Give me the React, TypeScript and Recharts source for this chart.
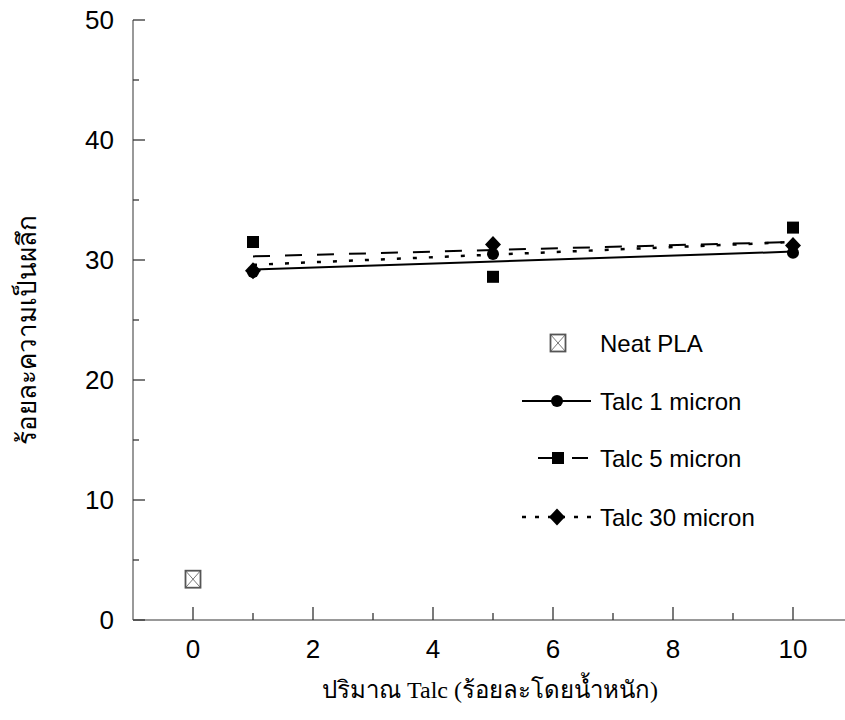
import React from "react";
import { ScatterChart, Scatter, XAxis, YAxis } from "recharts";

// values
const pointX = [1, 5, 10];
const talc1 = [29.0, 30.5, 30.6];
const talc5 = [31.5, 28.6, 32.7];
const talc30 = [29.1, 31.3, 31.2];

const neatX = [0];
const neatY = [3.4];

// fitted trend lines, end points
const fitX = [1, 10];
const fit1 = [29.2, 30.7];
const fit5 = [30.3, 31.5];
const fit30 = [29.6, 31.5];

const xTicks = [0, 1, 2, 3, 4, 5, 6, 7, 8, 9, 10];
const xMajor = [0, 2, 4, 6, 8, 10];
const yTicks = [0, 5, 10, 15, 20, 25, 30, 35, 40, 45, 50];
const yMajor = [0, 10, 20, 30, 40, 50];

const legendNames = ["Neat PLA", "Talc 1 micron", "Talc 5 micron", "Talc 30 micron"];
const xLabel = "ปริมาณ Talc (ร้อยละโดยน้ำหนัก)";
const yLabel = "ร้อยละความเป็นผลึก";

const toPoints = (xs: number[], ys: number[]) => xs.map((x, i) => ({ x, y: ys[i] }));

const AXIS_X = 133;
const AXIS_Y = 620;
const SANS = "'Liberation Sans', Arial, sans-serif";
const SERIF = "'Liberation Serif', 'DejaVu Serif', serif";

function XTick(props: any) {
  const { x, payload } = props;
  const major = xMajor.includes(payload.value);
  return (
    <g>
      <line x1={x} x2={x} y1={AXIS_Y} y2={AXIS_Y - (major ? 13 : 7)} stroke="#333" strokeWidth={1.3} />
      {major && (
        <text x={x} y={658} textAnchor="middle" fontSize={26} fontFamily={SANS} fill="#000">
          {payload.value}
        </text>
      )}
    </g>
  );
}

function YTick(props: any) {
  const { y, payload } = props;
  const major = yMajor.includes(payload.value);
  return (
    <g>
      <line x1={AXIS_X} x2={AXIS_X + (major ? 12 : 6)} y1={y} y2={y} stroke="#333" strokeWidth={1.3} />
      {major && (
        <text x={114} y={y} dy="0.36em" textAnchor="end" fontSize={26} fontFamily={SANS} fill="#000">
          {payload.value}
        </text>
      )}
    </g>
  );
}

const Circle = (p: any) => <circle cx={p.cx} cy={p.cy} r={6} fill="#000" />;
const Square = (p: any) => <rect x={p.cx - 6} y={p.cy - 6} width={12} height={12} fill="#000" />;
const Diamond = (p: any) => (
  <path d={`M${p.cx},${p.cy - 8.5} L${p.cx + 8},${p.cy} L${p.cx},${p.cy + 8.5} L${p.cx - 8},${p.cy} Z`} fill="#000" />
);
const Boxed = (p: any) => {
  const w = 7.5;
  const h = 8.5;
  return (
    <g stroke="#555" fill="#fff">
      <rect x={p.cx - w} y={p.cy - h} width={w * 2} height={h * 2} strokeWidth={1.8} />
      <path d={`M${p.cx - w},${p.cy - h} L${p.cx + w},${p.cy + h} M${p.cx + w},${p.cy - h} L${p.cx - w},${p.cy + h}`} strokeWidth={0.8} />
    </g>
  );
};
const NoDot = () => <g />;

function LegendOverlay() {
  const tx = 600;
  const rows = [343, 401, 458, 517];
  return (
    <g fontFamily={SANS} fontSize={24} fill="#000">
      <Boxed cx={558} cy={rows[0]} />
      <line x1={522} x2={591} y1={rows[1]} y2={rows[1]} stroke="#000" strokeWidth={2} />
      <Circle cx={557} cy={rows[1]} />
      <line x1={538} x2={588} y1={rows[2]} y2={rows[2]} stroke="#000" strokeWidth={2} strokeDasharray="16 18" />
      <Square cx={558} cy={rows[2]} />
      <line x1={522} x2={591} y1={rows[3]} y2={rows[3]} stroke="#000" strokeWidth={2.5} strokeDasharray="4 9" />
      <Diamond cx={557} cy={rows[3]} />
      {legendNames.map((n, i) => (
        <text key={n} x={tx} y={rows[i]} dy="0.36em">
          {n}
        </text>
      ))}
    </g>
  );
}

export default function App() {
  return (
    <div style={{ position: "absolute", left: 0, top: 0, width: 845, height: 720, overflow: "hidden", background: "#fff" }}>
      <ScatterChart width={853} height={720} margin={{ top: 20, right: 0, bottom: 0, left: 0 }}>
        <XAxis
          type="number"
          dataKey="x"
          domain={[-1, 11]}
          ticks={xTicks}
          interval={0}
          height={100}
          axisLine={{ stroke: "#777", strokeWidth: 1.5 }}
          tickLine={false}
          tick={<XTick />}
        />
        <XAxis
          xAxisId="top"
          orientation="top"
          type="number"
          dataKey="x"
          domain={[-1, 11]}
          height={0}
          axisLine={{ stroke: "#111", strokeWidth: 1.5 }}
          tickLine={false}
          tick={false}
        />
        <YAxis
          type="number"
          dataKey="y"
          domain={[0, 50]}
          ticks={yTicks}
          interval={0}
          width={AXIS_X}
          axisLine={{ stroke: "#777", strokeWidth: 1.5 }}
          tickLine={false}
          tick={<YTick />}
        />
        <Scatter data={toPoints(fitX, fit1)} line={{ stroke: "#000", strokeWidth: 2 }} shape={NoDot} isAnimationActive={false} />
        <Scatter data={toPoints(fitX, fit5)} line={{ stroke: "#000", strokeWidth: 2, strokeDasharray: "17 15" }} shape={NoDot} isAnimationActive={false} />
        <Scatter data={toPoints(fitX, fit30)} line={{ stroke: "#000", strokeWidth: 2.5, strokeDasharray: "4 12" }} shape={NoDot} isAnimationActive={false} />
        <Scatter data={toPoints(neatX, neatY)} shape={Boxed} isAnimationActive={false} />
        <Scatter data={toPoints(pointX, talc1)} shape={Circle} isAnimationActive={false} />
        <Scatter data={toPoints(pointX, talc5)} shape={Square} isAnimationActive={false} />
        <Scatter data={toPoints(pointX, talc30)} shape={Diamond} isAnimationActive={false} />
      </ScatterChart>
      <svg width={845} height={720} style={{ position: "absolute", left: 0, top: 0, pointerEvents: "none" }}>
        <LegendOverlay />
        <text x={490} y={698} textAnchor="middle" fontSize={24} fontFamily={SERIF} fill="#000">
          {xLabel}
        </text>
        <text
          x={0}
          y={0}
          transform="translate(36, 330) rotate(-90)"
          textAnchor="middle"
          fontSize={26}
          fontFamily={SERIF}
          fill="#000"
        >
          {yLabel}
        </text>
      </svg>
    </div>
  );
}
